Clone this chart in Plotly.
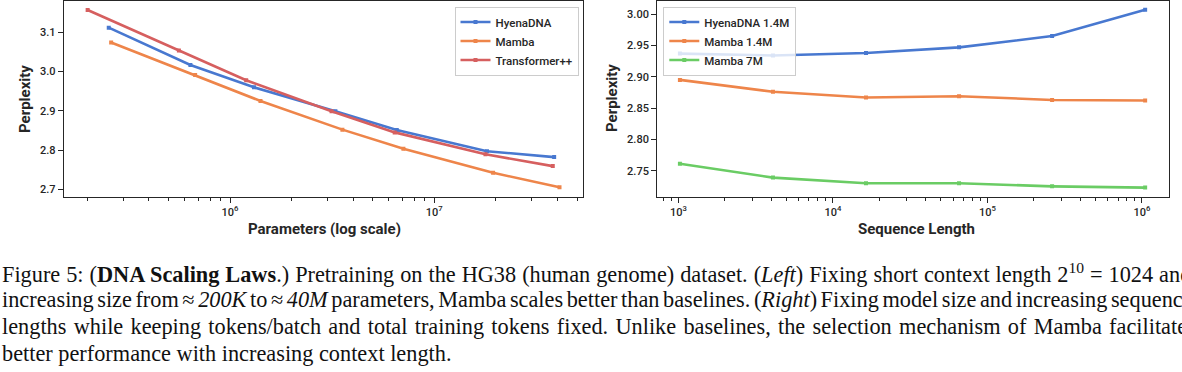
import plotly.graph_objects as go

# ---------------- data ----------------
# Left: parameters (log scale) vs perplexity
hyena_params = [2.55e5, 6.4e5, 1.31e6, 3.28e6, 6.55e6, 1.81e7, 3.86e7]
hyena_ppl = [3.112, 3.017, 2.960, 2.899, 2.851, 2.797, 2.782]
mamba_params = [2.62e5, 6.75e5, 1.41e6, 3.55e6, 7.06e6, 1.94e7, 4.10e7]
mamba_ppl = [3.074, 2.991, 2.925, 2.852, 2.803, 2.742, 2.705]
tpp_params = [2.01e5, 5.62e5, 1.20e6, 3.14e6, 6.40e6, 1.78e7, 3.80e7]
tpp_ppl = [3.157, 3.054, 2.978, 2.899, 2.845, 2.789, 2.759]

# Right: sequence length vs perplexity
seq_len = [1024, 4096, 16384, 65536, 262144, 1048576]
hyena14_ppl = [2.937, 2.934, 2.938, 2.947, 2.965, 3.007]
mamba14_ppl = [2.895, 2.876, 2.867, 2.869, 2.863, 2.862]
mamba7_ppl = [2.761, 2.739, 2.730, 2.730, 2.725, 2.723]

left_names = ["HyenaDNA", "Mamba", "Transformer++"]
right_names = ["HyenaDNA 1.4M", "Mamba 1.4M", "Mamba 7M"]

left_ticks = [2.7, 2.8, 2.9, 3.0, 3.1]
right_ticks = [2.75, 2.80, 2.85, 2.90, 2.95, 3.00]

caption_lines = [
    "Figure 5: (<b>DNA Scaling Laws</b>.) Pretraining on the HG38 (human genome) dataset. (<i>Left</i>) Fixing short context length 2<sup>10</sup> = 1024 and",
    "increasing size from ≈ <i>200K</i> to ≈ <i>40M</i> parameters, Mamba scales better than baselines. (<i>Right</i>) Fixing model size and increasing sequence",
    "lengths while keeping tokens/batch and total training tokens fixed. Unlike baselines, the selection mechanism of Mamba facilitates",
    "better performance with increasing context length.",
]
# justified text: extra word spacing per caption line (px)
caption_word_spacing = [0.4, -2.0, 1.7, 0.0]

# ---------------- style ----------------
W, H = 1182, 372
BLUE, ORANGE, GREEN, RED = "#4878d0", "#ee854a", "#6acc64", "#d65f5f"
DARK = "#262626"
FONT = "Roboto"


def px_x(p):
    return p / W


def px_y(p):
    return 1 - p / H


fig = go.Figure()

for xs, ys, name, col in [
    (hyena_params, hyena_ppl, left_names[0], BLUE),
    (mamba_params, mamba_ppl, left_names[1], ORANGE),
    (tpp_params, tpp_ppl, left_names[2], RED),
]:
    fig.add_trace(go.Scatter(
        x=xs, y=ys, name=name, mode="lines+markers",
        line=dict(color=col, width=2.6),
        marker=dict(color=col, size=4, symbol="square"),
        xaxis="x", yaxis="y", legend="legend",
    ))

for xs, ys, name, col in [
    (seq_len, hyena14_ppl, right_names[0], BLUE),
    (seq_len, mamba14_ppl, right_names[1], ORANGE),
    (seq_len, mamba7_ppl, right_names[2], GREEN),
]:
    fig.add_trace(go.Scatter(
        x=xs, y=ys, name=name, mode="lines+markers",
        line=dict(color=col, width=2.6),
        marker=dict(color=col, size=4, symbol="square"),
        xaxis="x2", yaxis="y2", legend="legend2",
    ))


def minor_vals(lo, hi):
    vals = []
    for k in range(lo, hi + 1):
        for m in range(2, 10):
            vals.append(m * 10 ** k)
    return vals


axis_common = dict(
    showline=True, mirror=True, linecolor=DARK, linewidth=1.4,
    ticks="outside", ticklen=5, tickwidth=1.1, tickcolor=DARK,
    showgrid=False, zeroline=False, automargin=False,
    tickfont=dict(family=FONT, size=11, color=DARK, weight=500),
)

fig.update_layout(
    width=W, height=H,
    margin=dict(l=0, r=0, t=0, b=0),
    paper_bgcolor="white", plot_bgcolor="white",
    font=dict(family=FONT, color=DARK),
    xaxis=dict(
        type="log", domain=[px_x(64), px_x(582.7)], range=[5.1875, 7.7263],
        tickvals=[1e6, 1e7], ticktext=["10<sup>6</sup>", "10<sup>7</sup>"],
        minor=dict(tickvals=minor_vals(5, 7), ticks="outside", ticklen=3.5,
                   tickwidth=1, tickcolor=DARK),
        anchor="y", **axis_common,
    ),
    yaxis=dict(
        domain=[px_y(196.7), px_y(1)], range=[2.681, 3.180],
        tickvals=left_ticks, tickformat=".1f", anchor="x", **axis_common,
    ),
    xaxis2=dict(
        type="log", domain=[px_x(657.3), px_x(1168.7)], range=[2.864, 6.173],
        tickvals=[1e3, 1e4, 1e5, 1e6],
        ticktext=["10<sup>3</sup>", "10<sup>4</sup>", "10<sup>5</sup>", "10<sup>6</sup>"],
        minor=dict(tickvals=minor_vals(2, 6), ticks="outside", ticklen=3.5,
                   tickwidth=1, tickcolor=DARK),
        anchor="y2", **axis_common,
    ),
    yaxis2=dict(
        domain=[px_y(196.7), px_y(1)], range=[2.7085, 3.021],
        tickvals=right_ticks, tickformat=".2f", anchor="x2", **axis_common,
    ),
    legend=dict(
        x=px_x(454.5), y=px_y(6.5), xanchor="left", yanchor="top",
        bgcolor="rgba(255,255,255,0.8)", bordercolor="#cccccc", borderwidth=1,
        font=dict(family=FONT, size=11.5, color=DARK, weight=500),
        itemwidth=30, tracegroupgap=0,
    ),
    legend2=dict(
        x=px_x(663.3), y=px_y(6.5), xanchor="left", yanchor="top",
        bgcolor="rgba(255,255,255,0.8)", bordercolor="#cccccc", borderwidth=1,
        font=dict(family=FONT, size=11.5, color=DARK, weight=500),
        itemwidth=30, tracegroupgap=0,
    ),
    showlegend=True,
)

# Axis titles
title_font = dict(family=FONT, size=15, color=DARK, weight="bold")
annos = [
    dict(text="Perplexity", x=px_x(25), y=px_y(99), textangle=-90),
    dict(text="Perplexity", x=px_x(612), y=px_y(98), textangle=-90),
    dict(text="Parameters (log scale)", x=px_x(324), y=px_y(229)),
    dict(text="Sequence Length", x=px_x(916), y=px_y(229)),
]
for a in annos:
    fig.add_annotation(xref="paper", yref="paper", showarrow=False,
                       xanchor="center", yanchor="middle", font=title_font, **a)

# Caption
cap_font = dict(family="Liberation Serif", size=22.3, color="#111111")
cap_centers = [272.6, 299.6, 326.3, 353.0]
for line, cy, ws in zip(caption_lines, cap_centers, caption_word_spacing):
    fig.add_annotation(xref="paper", yref="paper", showarrow=False,
                       x=0, y=px_y(cy), xanchor="left", yanchor="middle",
                       text=f'<span style="word-spacing:{ws}px">{line}</span>',
                       font=cap_font, align="left")

fig.write_html(
    "out.html",
    config={"displayModeBar": False},
    post_script="document.body.style.margin='0';document.body.style.padding='0';document.body.style.overflow='hidden';",
)
